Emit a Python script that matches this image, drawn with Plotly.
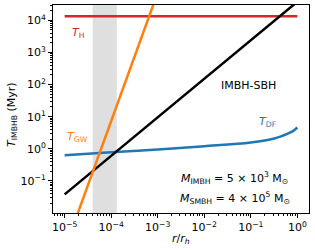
import plotly.graph_objects as go
import numpy as np

# data
r_h_line = [1e-5, 1e0]
T_H = [1.33e4, 1.33e4]

r_sbh = [1e-5, 1e0]
T_sbh = [0.038, 3.8e4]

r_gw = [1e-5, 1e-3]
T_gw = [7.3e-4, 7.3e4]

r_df = [1e-5, 1e-4, 1e-3, 1e-2, 1e-1, 0.32, 0.63, 0.8, 1.0]
T_df = [0.63, 0.78, 0.95, 1.2, 1.58, 2.1, 3.0, 3.55, 4.6]

band = [4.0e-5, 1.32e-4]

xtick_vals = [1e-5, 1e-4, 1e-3, 1e-2, 1e-1, 1e0]
xtick_text = ["10<sup>−5</sup>", "10<sup>−4</sup>", "10<sup>−3</sup>", "10<sup>−2</sup>", "10<sup>−1</sup>", "10<sup>0</sup>"]
ytick_vals = [1e-1, 1e0, 1e1, 1e2, 1e3, 1e4]
ytick_text = ["10<sup>−1</sup>", "10<sup>0</sup>", "10<sup>1</sup>", "10<sup>2</sup>", "10<sup>3</sup>", "10<sup>4</sup>"]

xminor = [k * 10.0**n for n in range(-6, 1) for k in range(2, 10)]
yminor = [k * 10.0**n for n in range(-3, 5) for k in range(2, 10)]

FONT = "DejaVu Sans"
fig = go.Figure()

fig.add_vrect(x0=band[0], x1=band[1], fillcolor="rgb(223,223,223)", line_width=0, layer="below")

fig.add_trace(go.Scatter(x=r_h_line, y=T_H, mode="lines", line=dict(color="#d62728", width=2.5)))
fig.add_trace(go.Scatter(x=r_df, y=T_df, mode="lines", line=dict(color="#1f77b4", width=2.5, shape="spline")))
fig.add_trace(go.Scatter(x=r_sbh, y=T_sbh, mode="lines", line=dict(color="black", width=2.5)))
fig.add_trace(go.Scatter(x=r_gw, y=T_gw, mode="lines", line=dict(color="#ff7f0e", width=2.5)))

ann = [
    dict(x=np.log10(2.0e-5), y=np.log10(4.0e3), text="<i>T</i><sub>H</sub>", color="#d62728"),
    dict(x=np.log10(1.85e-5), y=np.log10(2.3), text="<i>T</i><sub>GW</sub>", color="#ff7f0e"),
    dict(x=np.log10(0.225), y=np.log10(7.0), text="<i>T</i><sub>DF</sub>", color="#1f77b4"),
    dict(x=np.log10(0.088), y=np.log10(95), text="IMBH-SBH", color="black"),
    dict(x=np.log10(0.045), y=np.log10(0.127), text="<i>M</i><sub>IMBH</sub> = 5 × 10<sup>3</sup> M<sub>⊙</sub>", color="black"),
    dict(x=np.log10(0.045), y=np.log10(0.0283), text="<i>M</i><sub>SMBH</sub> = 4 × 10<sup>5</sup> M<sub>⊙</sub>", color="black"),
]
for a in ann:
    fig.add_annotation(x=a["x"], y=a["y"], xref="x", yref="y", text=a["text"], showarrow=False,
                       xanchor="center", font=dict(family=FONT, size=11, color=a["color"]))

# axis titles as annotations for precise placement
fig.add_annotation(x=0.5, y=0, xref="paper", yref="paper", yshift=-26, yanchor="middle",
                   text="<i>r</i>/<i>r<sub>h</sub></i>", showarrow=False,
                   font=dict(family=FONT, size=11, color="black"))
fig.add_annotation(x=0, y=0.5, xref="paper", yref="paper", xshift=-41, yshift=-6, xanchor="center",
                   yanchor="middle", textangle=-90, text="<i>T</i><sub>IMBHB</sub> (Myr)", showarrow=False,
                   font=dict(family=FONT, size=11, color="black"))

axis_common = dict(showline=True, linecolor="black", linewidth=1, mirror=True, ticks="outside",
                   ticklen=4, tickcolor="black", showgrid=False, zeroline=False, automargin=False,
                   tickfont=dict(family=FONT, size=11, color="black"))

fig.update_xaxes(type="log", range=[-5.25, 0.25], tickvals=xtick_vals, ticktext=xtick_text,
                 minor=dict(tickvals=xminor, ticks="outside", ticklen=2, tickcolor="black", showgrid=False),
                 **axis_common)
fig.update_yaxes(type="log", range=[-2.0, 4.477], tickvals=ytick_vals, ticktext=ytick_text,
                 minor=dict(tickvals=yminor, ticks="outside", ticklen=2, tickcolor="black", showgrid=False),
                 **axis_common)

fig.update_layout(width=315, height=250, margin=dict(l=53, r=6, t=5, b=37),
                  plot_bgcolor="white", paper_bgcolor="white", showlegend=False, hovermode=False)

fig.write_html("out.html", config={"displayModeBar": False, "staticPlot": True},
               post_script="document.body.style.margin='0px';document.body.style.padding='0px';")
